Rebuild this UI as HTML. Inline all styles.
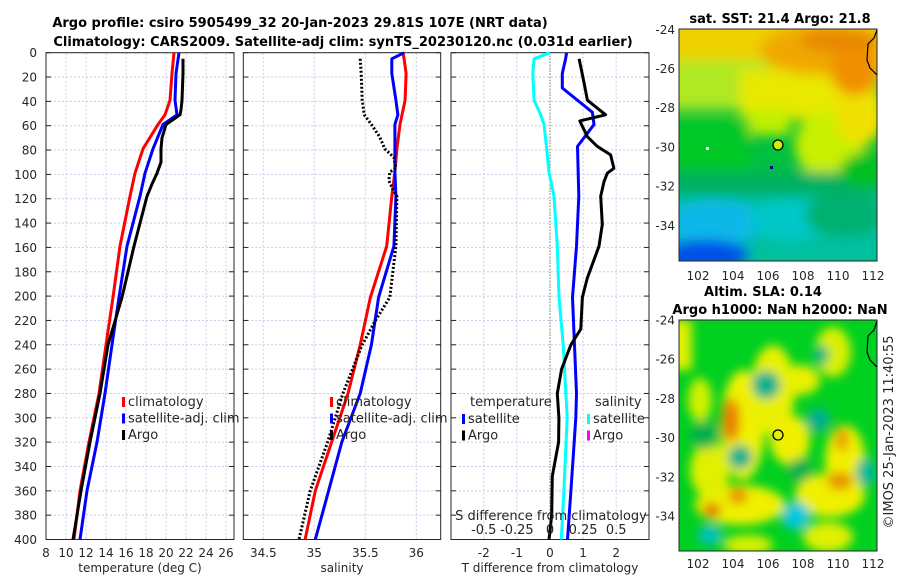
<!DOCTYPE html>
<html><head><meta charset="utf-8">
<style>
html,body{margin:0;padding:0;background:#fff;}
svg text{font-family:"DejaVu Sans","Liberation Sans",sans-serif;fill:#262626;}
.t{font-weight:bold;font-size:13px;fill:#000;}
.tk{font-size:12px;}
.lg{font-size:13px;}
</style></head>
<body>
<svg id="fig" width="900" height="580" viewBox="0 0 900 580" xmlns="http://www.w3.org/2000/svg">
<defs>
<filter id="blur1" x="-20%" y="-20%" width="140%" height="140%"><feGaussianBlur stdDeviation="6"/></filter>
<filter id="blur2" x="-20%" y="-20%" width="140%" height="140%"><feGaussianBlur stdDeviation="5"/></filter>
<clipPath id="clipM1"><rect x="679" y="29" width="198" height="232"/></clipPath>
<clipPath id="clipM2"><rect x="679" y="320" width="198" height="231"/></clipPath>
</defs>
<text class="t" x="300" y="27" text-anchor="middle">Argo profile: csiro 5905499_32 20-Jan-2023 29.81S 107E (NRT data)</text>
<text class="t" x="343" y="46" text-anchor="middle">Climatology: CARS2009. Satellite-adj clim: synTS_20230120.nc (0.031d earlier)</text>
<g id="panels"></g>
<!-- SST map -->
<g>
<text class="t" x="780" y="23" text-anchor="middle">sat. SST: 21.4 Argo: 21.8</text>
<g clip-path="url(#clipM1)">
<rect x="679" y="29" width="198" height="232" fill="#00c040"/>
<g filter="url(#blur1)">
<rect x="660" y="10" width="240" height="70" fill="#f0d000"/>
<rect x="660" y="60" width="110" height="50" fill="#b0e820"/>
<rect x="740" y="70" width="140" height="50" fill="#e8e800"/>
<rect x="740" y="110" width="50" height="25" fill="#c0f000"/>
<ellipse cx="830" cy="145" rx="35" ry="35" fill="#c8f000"/>
<ellipse cx="860" cy="115" rx="25" ry="30" fill="#f0e000"/>
<ellipse cx="820" cy="50" rx="60" ry="25" fill="#f0a800"/>
<ellipse cx="855" cy="70" rx="25" ry="25" fill="#f09000"/>
<ellipse cx="840" cy="40" rx="40" ry="12" fill="#e88800"/>
<rect x="660" y="118" width="90" height="55" fill="#00c828"/>
<rect x="660" y="172" width="240" height="25" fill="#00b060"/>
<ellipse cx="870" cy="170" rx="30" ry="18" fill="#00c020"/>
<rect x="660" y="195" width="240" height="70" fill="#00c0a0"/>
<ellipse cx="715" cy="222" rx="50" ry="22" fill="#10b8e8"/>
<ellipse cx="790" cy="220" rx="40" ry="20" fill="#00c8c8"/>
<ellipse cx="845" cy="215" rx="40" ry="22" fill="#00b070"/>
<ellipse cx="705" cy="255" rx="45" ry="15" fill="#0050e8"/>
</g>
</g>
<rect x="679" y="29" width="198" height="232" fill="none" stroke="#262626" stroke-width="1"/>
<path d="M877,30 L874,38 L868,44 L867,60 L870,68 L877,75" fill="none" stroke="#000" stroke-width="1.2"/>
<circle cx="778" cy="145" r="5" fill="#c8f000" stroke="#000" stroke-width="1.3"/>
<rect x="770" y="166" width="3" height="3" fill="#000080"/>
<rect x="706" y="147" width="3" height="3" fill="#fff"/>
</g>
<!-- SLA map -->
<g>
<text class="t" x="763" y="296" text-anchor="middle">Altim. SLA: 0.14</text>
<text class="t" x="780" y="314" text-anchor="middle">Argo h1000: NaN h2000: NaN</text>
<g clip-path="url(#clipM2)">
<rect x="679" y="320" width="198" height="231" fill="#00d020"/>
<g filter="url(#blur2)">
<rect x="670" y="320" width="22" height="50" fill="#e0f000"/>
<ellipse cx="743" cy="425" rx="22" ry="55" fill="#f0f000"/>
<ellipse cx="773" cy="390" rx="22" ry="45" fill="#e8f000"/>
<ellipse cx="790" cy="440" rx="20" ry="25" fill="#f0f000"/>
<ellipse cx="833" cy="352" rx="18" ry="25" fill="#d8f000"/>
<ellipse cx="845" cy="460" rx="20" ry="35" fill="#f0f000"/>
<ellipse cx="830" cy="495" rx="35" ry="22" fill="#f0f000"/>
<ellipse cx="740" cy="505" rx="45" ry="20" fill="#f0f000"/>
<ellipse cx="710" cy="470" rx="20" ry="28" fill="#e0f000"/>
<ellipse cx="700" cy="400" rx="12" ry="22" fill="#d0f000"/>
<ellipse cx="800" cy="380" rx="20" ry="15" fill="#e8f000"/>
<ellipse cx="828" cy="537" rx="25" ry="15" fill="#e0f000"/>
<ellipse cx="748" cy="545" rx="25" ry="10" fill="#d8f000"/>
<ellipse cx="731" cy="420" rx="9" ry="22" fill="#e88000"/>
<ellipse cx="712" cy="510" rx="9" ry="7" fill="#e07000"/>
<ellipse cx="738" cy="496" rx="10" ry="8" fill="#e89000"/>
<ellipse cx="840" cy="481" rx="13" ry="9" fill="#e89000"/>
<ellipse cx="842" cy="440" rx="7" ry="12" fill="#e8a000"/>
<ellipse cx="766" cy="385" rx="14" ry="14" fill="#00b090"/>
<ellipse cx="740" cy="457" rx="12" ry="12" fill="#00b090"/>
<ellipse cx="796" cy="516" rx="14" ry="14" fill="#00c8e0"/>
<ellipse cx="818" cy="420" rx="12" ry="12" fill="#00b090"/>
<ellipse cx="710" cy="535" rx="12" ry="10" fill="#00c0c0"/>
<ellipse cx="866" cy="472" rx="10" ry="14" fill="#00b8a0"/>
<ellipse cx="821" cy="355" rx="8" ry="10" fill="#00b880"/>
<ellipse cx="705" cy="435" rx="14" ry="14" fill="#00b050"/>
<ellipse cx="800" cy="470" rx="12" ry="12" fill="#00b050"/>
</g>
</g>
<rect x="679" y="320" width="198" height="231" fill="none" stroke="#262626" stroke-width="1"/>
<path d="M877,321 L874,330 L868,336 L867,352 L870,360 L877,367" fill="none" stroke="#000" stroke-width="1.2"/>
<circle cx="778" cy="435" r="5" fill="none" stroke="#000" stroke-width="1.3"/>
</g>
<text x="0" y="0" font-size="13" transform="translate(893,432) rotate(-90)" text-anchor="middle">©IMOS 25-Jan-2023 11:40:55</text>
</svg>
<script>
// ---- data ----
const depthTicks=[0,20,40,60,80,100,120,140,160,180,200,220,240,260,280,300,320,340,360,380,400];
const tempTicks=[8,10,12,14,16,18,20,22,24,26];
const salTicks=[34.5,35,35.5,36];
const salTickLabels=["34.5","35","35.5","36"];
const tdTicks=[-2,-1,0,1,2];
const sdTicks=[-0.5,-0.25,0,0.25,0.5];
const sdTickLabels=["-0.5","-0.25","0","0.25","0.5"];

const tempDepth=[0,17,39,51,59,79,99,118,159,201,240,280,320,360,400];
const tempClim=[20.8,20.6,20.4,19.9,19.2,17.7,16.9,16.4,15.4,14.7,14.0,13.3,12.3,11.4,10.8];
const tempSat=[21.3,21.0,20.9,21.1,19.7,18.7,17.9,17.4,16.1,15.3,14.6,13.9,13.1,12.1,11.4];
const argoTDepth=[5,17,39,47,51,59,70,79,90,99,108,118,140,159,180,201,240,280,320,360,400];
const argoTemp=[21.7,21.7,21.6,21.5,21.4,20.0,19.6,19.5,19.5,19.1,18.6,18.1,17.4,16.8,16.2,15.6,14.2,13.4,12.4,11.5,10.7];

const salDepth=[0,5,17,39,51,59,79,98,118,159,201,240,280,320,360,400];
const salClim=[35.87,35.88,35.90,35.89,35.86,35.84,35.81,35.79,35.76,35.71,35.55,35.45,35.33,35.17,35.01,34.91];
const salSat=[35.88,35.76,35.76,35.80,35.82,35.79,35.79,35.79,35.80,35.78,35.63,35.56,35.45,35.27,35.14,35.01];
const argoSDepth=[5,17,39,51,59,69,79,86,95,98,105,112,118,159,201,220,240,280,320,360,400];
const argoSal=[35.45,35.46,35.47,35.49,35.56,35.64,35.69,35.78,35.80,35.74,35.73,35.77,35.81,35.80,35.74,35.60,35.47,35.28,35.13,34.96,34.85];

const tdSatDepth=[0,5,17,29,49,59,77,118,159,201,280,300,320,360,400];
const tdSat=[0.5,0.47,0.37,0.37,1.28,1.33,0.83,0.87,0.80,0.68,0.8,0.78,0.73,0.63,0.53];
const tdArgoDepth=[5,25,39,51,56,59,69,77,84,95,99,106,118,141,159,185,201,227,240,260,280,300,320,348,380,400];
const tdArgo=[0.88,1.03,1.13,1.68,0.9,0.95,1.13,1.43,1.83,1.93,1.73,1.63,1.53,1.58,1.48,1.13,0.98,0.93,0.63,0.35,0.22,0.27,0.26,0.07,0.05,-0.03];
const sdSatDepth=[0,5,17,39,51,59,79,98,118,159,201,240,300,360,400];
const sdSat=[0,-0.12,-0.13,-0.12,-0.07,-0.045,-0.025,-0.008,0.03,0.055,0.068,0.10,0.13,0.105,0.085];

const mapLonTicks=[102,104,106,108,110,112];
const mapLatTicks=[-24,-26,-28,-30,-32,-34];

// ---- helpers ----
const NS="http://www.w3.org/2000/svg";
const root=document.getElementById('panels');
const Y0=52.7,Y1=539.5;
function yScale(d){return Y0+(d/400)*(Y1-Y0);}
function mk(tag,attrs,parent){const e=document.createElementNS(NS,tag);for(const k in attrs)e.setAttribute(k,attrs[k]);(parent||root).appendChild(e);return e;}
function txt(s,attrs,parent){const e=mk('text',attrs,parent);e.textContent=s;return e;}

const panels=[
 {name:'temperature-panel',x0:46,x1:234,d0:8,d1:26.8},
 {name:'salinity-panel',x0:243.3,x1:440.7,d0:34.5-20/102,d1:34.5-20/102+197.4/102},
 {name:'difference-panel',x0:451,x1:649,d0:-2.99,d1:2.99}
];
panels.forEach(p=>{p.sx=v=>p.x0+(v-p.d0)/(p.d1-p.d0)*(p.x1-p.x0);});

function frame(p,ticks,labels,xlabel){
  const g=mk('g',{});
  
  
  depthTicks.forEach(d=>{
    const l=mk('line',{x1:p.x0,x2:p.x1,y1:yScale(d),y2:yScale(d),stroke:'#c8cbe8','stroke-width':1,'stroke-dasharray':'2,2'},g);
    
    
    mk('line',{x1:p.x0,x2:p.x0+5,y1:yScale(d),y2:yScale(d),stroke:'#262626'},g);
    mk('line',{x1:p.x1-5,x2:p.x1,y1:yScale(d),y2:yScale(d),stroke:'#262626'},g);
  });
  ticks.forEach((t,i)=>{
    const x=p.sx(t);
    const l=mk('line',{x1:x,x2:x,y1:Y0,y2:Y1,stroke:'#c8cbe8','stroke-width':1,'stroke-dasharray':'2,2'},g);
    
    
    const lb=txt(labels[i],{x:x,y:557,'text-anchor':'middle',class:'tk'},g);
    
    
  });
  mk('rect',{x:p.x0,y:Y0,width:p.x1-p.x0,height:Y1-Y0,fill:'none',stroke:'#262626','stroke-width':1},g);
  const xl=txt(xlabel,{x:(p.x0+p.x1)/2,y:572,'text-anchor':'middle',class:'tk','font-size':13},g);
  
  
  return g;
}
function line(p,vals,depths,color,name,dash,width){
  const pts=vals.map((v,i)=>p.sx(v).toFixed(1)+','+yScale(depths[i]).toFixed(1)).join(' ');
  const e=mk('polyline',{points:pts,fill:'none',stroke:color,'stroke-width':width||3,'stroke-linejoin':'round'});
  if(dash)e.setAttribute('stroke-dasharray',dash);
  
  
  return e;
}
function legend(x,y,items){
  items.forEach((it,i)=>{
    const yy=y+i*16.5;
    const b=mk('rect',{x:x,y:yy-9,width:3,height:10,fill:it[1]});
    
    
    const t=txt(it[0],{x:x+6,y:yy,class:'lg'});
    
    
  });
}

depthTicks.forEach(d=>{
  const t=txt(String(d),{x:37,y:yScale(d)+4.5,'text-anchor':'end',class:'tk'});
  
  
});

const P1=panels[0],P2=panels[1],P3=panels[2];
frame(P1,tempTicks,tempTicks.map(String),'temperature (deg C)');
frame(P2,salTicks,salTickLabels,'salinity');
frame(P3,tdTicks,tdTicks.map(String),'T difference from climatology');

const z=mk('line',{x1:P3.sx(0),x2:P3.sx(0),y1:Y0,y2:Y1,stroke:'#4a5a2a','stroke-width':1,'stroke-dasharray':'1,2'});



line(P1,tempClim,tempDepth,'#ff0000','temp-climatology-line');
line(P1,tempSat,tempDepth,'#0000ff','temp-satellite-line');
line(P1,argoTemp,argoTDepth,'#000000','temp-argo-line');

line(P2,salClim,salDepth,'#ff0000','sal-climatology-line');
line(P2,salSat,salDepth,'#0000ff','sal-satellite-line');
line(P2,argoSal,argoSDepth,'#000000','sal-argo-line','2,2');

line(P3,sdSat.map(v=>v*4),sdSatDepth,'#00ffff','sal-diff-satellite-line');
line(P3,tdSat,tdSatDepth,'#0000ff','temp-diff-satellite-line');
line(P3,tdArgo,tdArgoDepth,'#000000','temp-diff-argo-line');

legend(122,406,[['climatology','#ff0000'],['satellite-adj. clim','#0000ff'],['Argo','#000000']]);
legend(330,406,[['climatology','#ff0000'],['satellite-adj. clim','#0000ff'],['Argo','#000000']]);
const lt=txt('temperature',{x:470,y:406,class:'lg'});


legend(462,423,[['satellite','#0000ff'],['Argo','#000000']]);
const ls=txt('salinity',{x:595,y:406,class:'lg'});


legend(587,423,[['satellite','#00ffff'],['Argo','#ff00ff']]);

const sdt=txt('S difference from climatology',{x:551,y:520,'text-anchor':'middle',class:'lg'});


sdTicks.forEach((t,i)=>{
  const e=txt(sdTickLabels[i],{x:P3.sx(t*4),y:534,'text-anchor':'middle',class:'lg'});
  
  
});

function mapTicks(top,bottom,labelY){
  const lx=v=>698+(v-102)*17.5;
  const ly=v=>top+(-24-v)*19.6;
  mapLonTicks.forEach(v=>{
    const e=txt(String(v),{x:lx(v),y:labelY,'text-anchor':'middle',class:'tk'});
    
    
    mk('line',{x1:lx(v),x2:lx(v),y1:bottom,y2:bottom-4,stroke:'#262626'});
    mk('line',{x1:lx(v),x2:lx(v),y1:top,y2:top+4,stroke:'#262626'});
  });
  mapLatTicks.forEach(v=>{
    const e=txt(String(v),{x:675,y:ly(v)+4.5,'text-anchor':'end',class:'tk'});
    
    
    mk('line',{x1:679,x2:683,y1:ly(v),y2:ly(v),stroke:'#262626'});
    mk('line',{x1:873,x2:877,y1:ly(v),y2:ly(v),stroke:'#262626'});
  });
}
mapTicks(29.3,261,280);
mapTicks(320,551,568);
</script>
</body></html>
